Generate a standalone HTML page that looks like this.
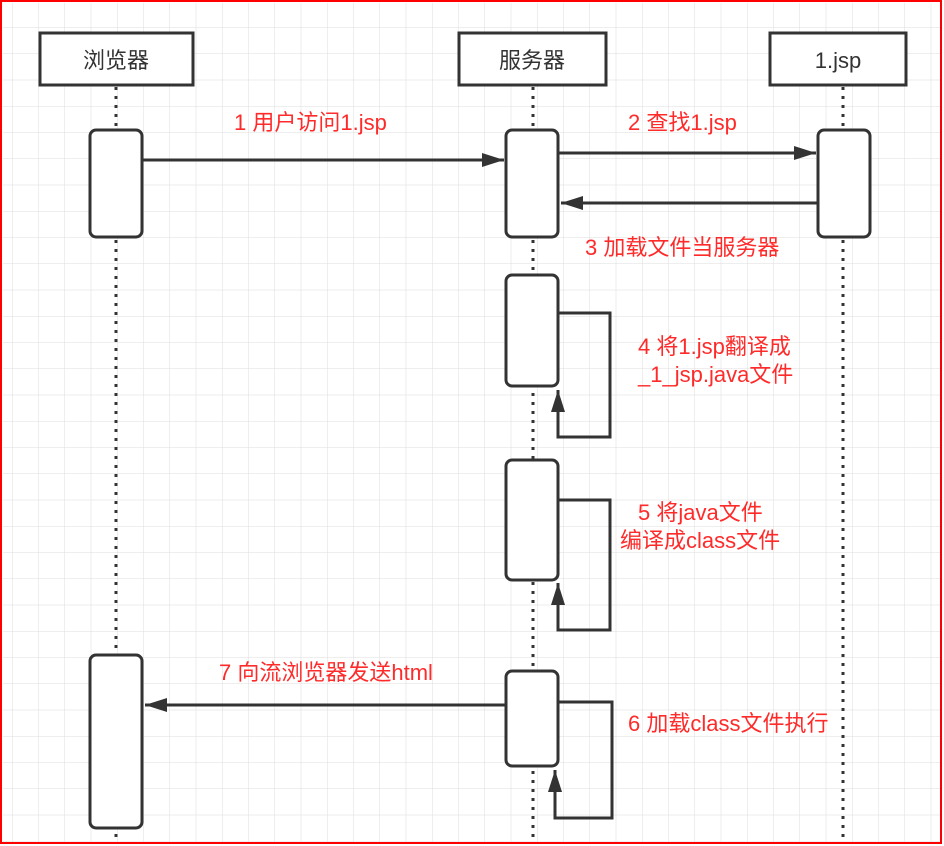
<!DOCTYPE html>
<html><head><meta charset="utf-8"><style>
html,body{margin:0;padding:0;background:#fff}
svg{display:block}
text{font-family:"Liberation Sans","Noto Sans CJK SC",sans-serif}
</style></head><body>
<svg width="944" height="846" viewBox="0 0 944 846" xmlns="http://www.w3.org/2000/svg">
<defs>
<pattern id="g" x="12" y="1" width="26.25" height="26.25" patternUnits="userSpaceOnUse">
<path d="M0 0V26.25M0 0H26.25" stroke="#dcdcdc" stroke-width="1" fill="none"/>
</pattern>
<marker id="a" markerWidth="24" markerHeight="16" refX="22" refY="8" orient="auto" markerUnits="userSpaceOnUse" viewBox="0 0 24 16"><path d="M0 1L22 8L0 15z" fill="#333"/></marker>
</defs>
<rect width="944" height="846" fill="#fff"/>
<rect x="3" y="3" width="937" height="840" fill="url(#g)"/>
<rect x="1" y="1" width="940" height="842" fill="none" stroke="#f00" stroke-width="2"/>
<g stroke="#333" stroke-width="3" stroke-dasharray="3,6" fill="none">
<line x1="116" y1="87" x2="116" y2="840"/>
<line x1="533" y1="87" x2="533" y2="840"/>
<line x1="843" y1="87" x2="843" y2="840"/>
</g>
<g fill="#fff" stroke="#333" stroke-width="3">
<rect x="40" y="33" width="153" height="52"/>
<rect x="459" y="33" width="147" height="52"/>
<rect x="770" y="33" width="136" height="52"/>
<rect x="90" y="130" width="52" height="107" rx="6"/>
<rect x="506" y="130" width="52" height="107" rx="6"/>
<rect x="818" y="130" width="52" height="107" rx="6"/>
<rect x="506" y="275" width="52" height="111" rx="6"/>
<rect x="506" y="460" width="52" height="120" rx="6"/>
<rect x="506" y="671" width="52" height="95" rx="6"/>
<rect x="90" y="655" width="52" height="173" rx="6"/>
</g>
<g stroke="#333" stroke-width="3" fill="none">
<line x1="142" y1="160" x2="504" y2="160" marker-end="url(#a)"/>
<line x1="558" y1="153" x2="816" y2="153" marker-end="url(#a)"/>
<line x1="818" y1="203" x2="561" y2="203" marker-end="url(#a)"/>
<line x1="506" y1="705" x2="145" y2="705" marker-end="url(#a)"/>
<polyline points="558,313 610,313 610,437 558,437 558,390" marker-end="url(#a)"/>
<polyline points="558,500 610,500 610,630 558,630 558,583" marker-end="url(#a)"/>
<polyline points="558,702 612,702 612,818 555,818 555,770" marker-end="url(#a)"/>
</g>
<g font-size="22" fill="#333" text-anchor="middle">
<text x="116" y="68">浏览器</text>
<text x="532" y="68">服务器</text>
<text x="838" y="68">1.jsp</text>
</g>
<g font-size="22" fill="#ff2a2a">
<text x="234" y="130">1 用户访问1.jsp</text>
<text x="628" y="130">2 查找1.jsp</text>
<text x="585" y="255">3 加载文件当服务器</text>
<text x="638" y="354">4 将1.jsp翻译成</text>
<text x="638" y="382">_1_jsp.java文件</text>
<text x="638" y="520">5 将java文件</text>
<text x="620" y="548">编译成class文件</text>
<text x="219" y="680">7 向流浏览器发送html</text>
<text x="628" y="731">6 加载class文件执行</text>
</g>
</svg>
</body></html>
